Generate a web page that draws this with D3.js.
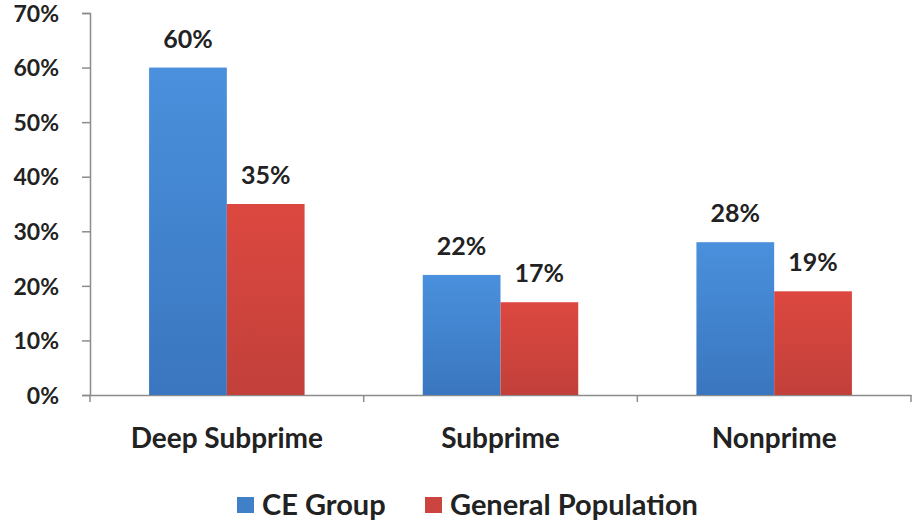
<!DOCTYPE html>
<html>
<head>
<meta charset="utf-8">
<script src="https://cdn.jsdelivr.net/npm/d3@7"></script>
<style>
  body { margin: 0; background: #fff; }
  text { font-family: Lato, "Open Sans", sans-serif; font-weight: bold; fill: #222; }
  .axis path, .axis line { stroke: #8c8c8c; stroke-width: 1.5; }
</style>
</head>
<body>
<div class="chart"></div>
<script>
// data
const categories = ['Deep Subprime', 'Subprime', 'Nonprime'];
const seriesNames = ['CE Group', 'General Population'];
const ceGroup = [60, 22, 28];
const generalPop = [35, 17, 19];
const yTicks = [0, 10, 20, 30, 40, 50, 60, 70];

const outerWidth = 915, outerHeight = 523;
const margin = {top: 13, right: 4, bottom: 128, left: 90};
const width = outerWidth - margin.left - margin.right;
const height = outerHeight - margin.top - margin.bottom;

const svg = d3.select('.chart').append('svg')
  .attr('width', outerWidth)
  .attr('height', outerHeight);

// gradients, Excel-ish shading
const defs = svg.append('defs');
const grads = [['gBlue', '#4a90dc', '#3a76bf'], ['gRed', '#dc4840', '#c2403a']];
grads.forEach(g => {
  const lg = defs.append('linearGradient').attr('id', g[0])
    .attr('x1', 0).attr('y1', 0).attr('x2', 0).attr('y2', 1);
  lg.append('stop').attr('offset', '0%').attr('stop-color', g[1]);
  lg.append('stop').attr('offset', '100%').attr('stop-color', g[2]);
});
const fills = ['url(#gBlue)', 'url(#gRed)'];
const legendColors = ['#3f80c8', '#cc4440'];

const g = svg.append('g')
  .attr('transform', `translate(${margin.left},${margin.top})`);

const x0 = d3.scaleBand().domain(categories).range([0, width]).paddingInner(0).paddingOuter(0);
const x1 = d3.scaleBand().domain(seriesNames).range([0, x0.bandwidth()]).paddingOuter(0.76).paddingInner(0);
const y = d3.scaleLinear().domain([0, 70]).range([height, 0]);

const rows = categories.map((c, i) => ({cat: c, vals: [ceGroup[i], generalPop[i]]}));

// y axis
const yAxis = g.append('g').attr('class', 'axis y-axis')
  .call(d3.axisLeft(y).tickValues(yTicks).tickFormat(d => d + '%').tickSize(8).tickSizeOuter(8));
yAxis.selectAll('text').attr('x', -31).style('text-anchor', 'end')
  .style('font-size', '23px').attr('dy', '0.36em');

// x axis with ticks at category boundaries
const xAxis = g.append('g').attr('class', 'axis x-axis')
  .attr('transform', `translate(0,${height})`)
  .call(d3.axisBottom(x0).tickSize(0).tickSizeOuter(0));
xAxis.selectAll('text').attr('dy', '0').attr('y', 53).style('font-size', '28px');
xAxis.selectAll('.bound').data(d3.range(categories.length + 1)).enter()
  .append('line').attr('class', 'bound')
  .attr('x1', i => i * x0.bandwidth()).attr('x2', i => i * x0.bandwidth())
  .attr('y1', 0).attr('y2', 7);

// bars
const group = g.selectAll('.cat').data(rows).enter()
  .append('g').attr('class', 'cat')
  .attr('transform', d => `translate(${x0(d.cat)},0)`);

group.selectAll('rect')
  .data(d => d.vals.map((v, j) => ({name: seriesNames[j], v: v, j: j})))
  .enter().append('rect')
  .attr('x', d => x1(d.name))
  .attr('y', d => y(d.v))
  .attr('width', x1.bandwidth())
  .attr('height', d => height - y(d.v))
  .attr('fill', d => fills[d.j]);

group.selectAll('.lbl')
  .data(d => d.vals.map((v, j) => ({name: seriesNames[j], v: v})))
  .enter().append('text').attr('class', 'lbl')
  .attr('x', d => x1(d.name) + x1.bandwidth() / 2)
  .attr('y', d => y(d.v) - 20)
  .attr('text-anchor', 'middle')
  .style('font-size', '25px')
  .text(d => d.v + '%');

// legend
const legend = svg.append('g').attr('transform', 'translate(237,497)');
const items = [{x: 0, name: seriesNames[0]}, {x: 188, name: seriesNames[1]}];
items.forEach((it, i) => {
  legend.append('rect').attr('x', it.x).attr('y', 0).attr('width', 17).attr('height', 16)
    .attr('fill', legendColors[i]);
  legend.append('text').attr('x', it.x + 25).attr('y', 18)
    .style('font-size', '29px').text(it.name);
});
</script>
</body>
</html>
